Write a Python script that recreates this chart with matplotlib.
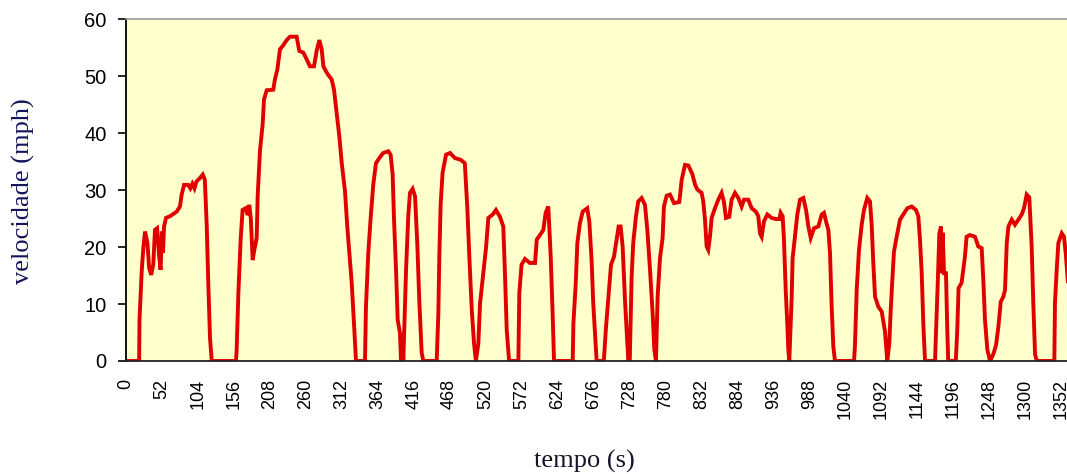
import matplotlib
matplotlib.use("Agg")
import matplotlib.pyplot as plt
import numpy as np

# speed trace (time in s, speed in mph)
tempo_s = [
    0, 19, 19.5, 22.7, 25, 27.5, 31, 33.5, 36.5, 39.5, 41.9, 45, 48, 50, 52, 53.5, 55,
    57.8, 63.6, 68.4, 73.3, 78, 80.5, 84, 90, 93, 96, 99, 102, 107, 111, 114, 116.7,
    119, 121.5, 124, 159, 160, 162.5, 165.8, 168.6, 173, 176, 178.3, 180.5, 183.2,
    185.6, 189, 190.4, 193.8, 197.6, 199.6, 203.5, 213, 215.5, 218.8, 222.7, 227.5,
    232.4, 237.2, 246.8, 250.6, 256.4, 259, 266, 271.9, 275.7, 279.6, 283, 285.4,
    291.2, 297.4, 300.8, 304.7, 308.5, 312, 316.7, 320, 323, 326.4, 329.7, 332.6,
    345.6, 347, 350.4, 353.8, 357.6, 361.5, 366.3, 372, 379.3, 382.7, 385.6, 387.6,
    390.5, 392.9, 396.2, 397.7, 399.5, 401, 405, 408.3, 410.7, 414.5, 418, 421.3,
    424.2, 427.6, 430, 449.3, 451.7, 453.1, 455, 457.8, 462.8, 468.5, 475.8, 484,
    490, 493.6, 496.5, 500, 503.3, 506, 509.5, 512, 516.7, 520.6, 524, 530.3, 535,
    540.8, 545.6, 548, 550.6, 554, 567.4, 568.8, 572, 577, 584, 591.5, 594, 598.7,
    603.5, 606.9, 610.7, 614.2, 617, 619, 646, 647, 650.3, 652.7, 656.5, 660.4, 667,
    670, 673.4, 675.7, 679.2, 680.6, 691, 694, 698.5, 701.4, 705.7, 709.5, 712.4,
    715.3, 718.2, 721.6, 724, 726.4, 728.5, 731.2, 733.5, 737.5, 740.8, 745.7, 750.5,
    753.9, 757.8, 761.7, 764, 766.4, 768.8, 772.2, 776, 777.9, 781.9, 786.7, 792.5,
    800.2, 803.6, 808.4, 813.2, 819, 822.8, 826.1, 832.4, 834.8, 837.3, 839.7, 842,
    844.5, 846.9, 851.7, 856.5, 861.3, 864.7, 867.6, 872.4, 875.8, 880.7, 885.5,
    890.3, 893.7, 899.9, 904.8, 911, 914.4, 916.8, 919.2, 922.6, 927.4, 933.7, 940,
    944.8, 946.7, 949.6, 951.5, 954, 956.3, 957.8, 959.2, 961.2, 962.7, 964, 967.4,
    970.8, 974.7, 979.5, 983.4, 986.8, 990.2, 995, 1001.2, 1006.1, 1009.4, 1012.3,
    1015.7, 1018.1, 1020.5, 1022.9, 1025.3, 1052.8, 1054.2, 1056.7, 1060, 1063.9,
    1067.2, 1072, 1075.9, 1078.3, 1080.7, 1083.2, 1088, 1092.8, 1097.6, 1100.9,
    1103.8, 1105.8, 1108.2, 1110.6, 1114.5, 1119.3, 1124.1, 1129.9, 1136.2, 1142.4,
    1145.8, 1148.2, 1150.7, 1153.1, 1155.5, 1170, 1171, 1173.9, 1176.2, 1178.6, 1180,
    1181, 1183, 1185.8, 1187.7, 1189, 1200, 1202.1, 1204, 1208.4, 1213.2, 1215.6,
    1220.4, 1227.7, 1232.5, 1237.4, 1239.8, 1242.2, 1245.6, 1249.5, 1254.3, 1258.2,
    1261.6, 1265, 1268.8, 1271.2, 1273.7, 1276.1, 1280.9, 1285.6, 1290.5, 1295.3,
    1298.6, 1302.5, 1306.3, 1309.7, 1312.1, 1314.6, 1317, 1342.5, 1343.4, 1345.9,
    1348.3, 1353.2, 1356.5, 1359.4, 1362,
]
velocidade_mph = [
    0, 0, 7.2, 15.7, 19.7, 22.7, 20.7, 16.3, 15.1, 17, 23, 23.3, 18.3, 16, 22.7, 19, 23.6,
    25.1, 25.4, 25.8, 26.2, 27.1, 29.2, 30.9, 30.9, 30.3, 31.1, 30.3, 31.5, 32.1, 32.7,
    31.8, 23.9, 13.7, 4, 0, 0, 1.9, 11.9, 21.3, 26.5, 26.8, 25.6, 27.4, 25, 17.7,
    19.5, 21.6, 28.9, 37, 41.5, 45.9, 47.5, 47.6, 49.5, 51.1, 54.7, 55.4,
    56.3, 56.9, 56.9, 54.4, 54.1, 53.5, 51.7, 51.7, 54.4, 56.3, 54.7, 51.7,
    50.4, 49.4, 47.6, 43.5, 39.4, 34.7, 29.8, 23.6, 19, 13.7, 6.6, 0,
    0, 9.5, 19, 25.1, 31, 34.7, 35.6, 36.5, 36.8, 36.2, 32.7, 24.8,
    16, 7.2, 4.9, 0, 4.9, 0, 16, 25.7, 29.5, 30.2, 28.9, 20.4,
    10.4, 1.4, 0, 0, 8.4, 18.3, 27.4, 33, 36.2, 36.5, 35.6, 35.3,
    34.7, 26.8, 18.3, 9, 3.1, 0, 3, 10.1, 15.4, 19.8, 25.1, 25.7, 26.5,
    25.3, 23.6, 15.4, 5.4, 0, 0, 11.9, 16.9, 17.9, 17.2, 17.2, 21.3, 22.1,
    23, 26, 27.1, 18.3, 8.1, 0, 0, 6.6, 13.4, 20.7, 24.2, 26.2, 26.8,
    24.5, 17.5, 10.1, 3.1, 0, 0, 5.7, 12.5, 16.9, 18.3, 21.3, 23.6,
    23.6, 20.1, 10.7, 5.4, 0, 0, 14.8, 20.7, 25.4, 28, 28.6, 27.4,
    23, 16, 8.1, 2, 0, 11.3, 18, 21.6, 27.1, 29, 29.2, 27.7,
    27.9, 31.8, 34.4, 34.3, 32.8, 31, 30.1, 29.5, 28, 24.8, 20.1, 19.5,
    21.8, 25.1, 26.8, 28.3, 29.5, 27.9, 25.1, 25.3, 28.3, 29.5, 28.6,
    27.1, 28.3, 28.3, 26.8, 26.2, 25.4, 22.4, 21.8, 24.5, 25.7, 25.1, 24.9,
    24.9, 26, 25.4, 21.3, 12.5, 6.6, 2, 0, 6.6, 11.3, 18, 21.8,
    25.7, 28.3, 28.6, 26.5, 23.6, 21.6, 23.3, 23.6, 25.7, 26, 24.5,
    23, 18.9, 9.5, 2.5, 0, 0, 2.8, 12.5, 19.5, 23.9,
    26.5, 28.6, 28, 24, 17.2, 11.3, 9.5, 8.7, 5.2, 0,
    3, 8.7, 14.2, 19.2, 21.8, 24.8, 25.7, 26.8, 27.1, 26.5,
    25.4, 21.3, 15.4, 6.3, 0, 0, 3.7, 13.7, 22.4, 23.6, 15.4,
    22.5, 15.4, 15.4, 5.4, 0, 0, 5.4, 12.8, 13.7, 18.3, 21.8,
    22.1, 21.8, 20.1, 19.8, 14.2, 7.2, 2, 0, 1.2, 2.8,
    6, 10.4, 11.3, 12.5, 20.7, 23.6, 24.8, 23.9, 24.8, 25.7,
    26.8, 29.2, 28.7, 20.1, 10.1, 1.2, 0, 0, 10.1, 16,
    20.7, 22.4, 21.8, 18.3, 14,
]
x_ticks = list(range(0, 1353, 52))
y_ticks = [0, 10, 20, 30, 40, 50, 60]

W, H = 1067, 474
fig = plt.figure(figsize=(W / 100, H / 100), dpi=100)
fig.patch.set_facecolor("white")

# plot area runs past the right edge of the picture (cropped like the original)
x0, x1, y0, y1 = 126, 1085, 19, 361
ax = fig.add_axes([x0 / W, 1 - y1 / H, (x1 - x0) / W, (y1 - y0) / H])
ax.set_facecolor("#FFFFCC")

ax.plot(tempo_s, velocidade_mph, color="#E00000", linewidth=2.8, solid_joinstyle="miter")

px_per_s = 0.6915
ax.set_xlim(0, (x1 - x0) / px_per_s)
ax.set_ylim(0, 60)

ax.set_yticks(y_ticks)
ax.set_xticks(x_ticks)
ax.set_xticklabels([str(t) for t in x_ticks], rotation=90, fontsize=13,
                   family="Liberation Sans")
ax.set_yticklabels([str(v) for v in y_ticks], fontsize=14.5, family="Liberation Sans")
ax.tick_params(axis="y", direction="out", length=6, width=1.2, pad=8, color="black")
ax.tick_params(axis="x", length=0, pad=13)

ax.spines["left"].set_color("black")
ax.spines["left"].set_linewidth(1.3)
ax.spines["bottom"].set_color("#222222")
ax.spines["bottom"].set_linewidth(1.3)
ax.spines["top"].set_color("#999999")
ax.spines["top"].set_linewidth(1.2)
ax.spines["right"].set_visible(False)

fig.text(23 / W, 1 - 191 / H, "velocidade (mph)", rotation=90, ha="center", va="center",
         fontsize=19, family="Liberation Serif", color="#14145a")
fig.text(584 / W, 1 - 461 / H, "tempo (s)", ha="center", va="center",
         fontsize=19, family="Liberation Serif", color="#14142a")

fig.savefig("out.png", dpi=100)
